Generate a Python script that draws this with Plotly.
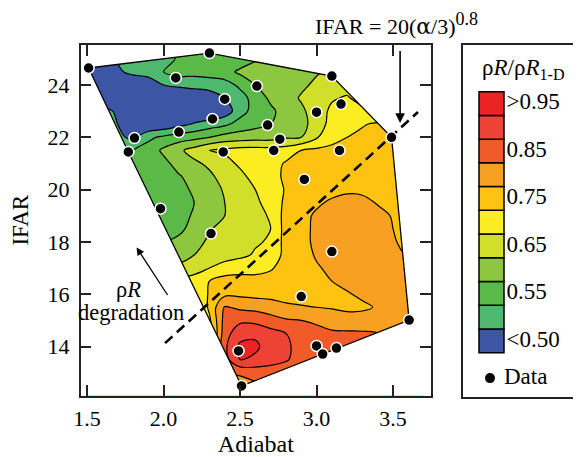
import plotly.graph_objects as go

# ---------------- data ----------------
# field grid of rhoR / rhoR_1-D (x100)
adiabat_grid = [1.5, 1.6, 1.7, 1.8, 1.9, 2.0, 2.1, 2.2, 2.3, 2.4, 2.5, 2.6,
                2.7, 2.8, 2.9, 3.0, 3.1, 3.2, 3.3, 3.4, 3.5, 3.6, 3.7]
ifar_grid = [25.5, 25.0, 24.5, 24.0, 23.5, 23.0, 22.5, 22.0, 21.5, 21.0, 20.5, 20.0,
             19.5, 19.0, 18.5, 18.0, 17.5, 17.0, 16.5, 16.0, 15.5, 15.0, 14.5, 14.0,
             13.5, 13.0, 12.5, 12.0]
rho_r_pct = [
    [45, 45, 50.5, 52, 52, 52, 56, 57, 57, 57, 57, 59.5, 61, 62, 62, 63, 64, 66, 67, 67, 67, 67, 67],
    [45, 45, 50.5, 52, 52, 52, 56, 57, 57, 57, 57, 59.5, 61, 62, 62, 63, 64, 66, 67, 67, 67, 67, 67],
    [45, 45, 49, 51.5, 52, 55, 57, 56.5, 56.5, 58, 61, 62, 62, 62, 62, 64.5, 66, 67, 68, 68, 68, 68, 68],
    [45, 45, 45, 45, 47, 50, 51, 52, 53, 53, 56, 60, 62, 63, 64, 66, 67, 68, 69, 69, 69, 69, 69],
    [45, 45, 45, 45, 45, 45, 45, 45, 46, 50, 53, 57, 61, 63, 65.5, 67, 69.5, 70.5, 68, 67, 67, 67, 67],
    [52, 52, 49, 45, 45, 45, 45, 45, 45, 47, 53, 57, 59, 62, 64, 67.5, 71, 72.5, 71, 68, 68, 68, 68],
    [52, 52, 50, 46, 45, 46, 48.5, 50.5, 52.5, 54, 57, 58.5, 60, 62, 63.5, 67, 72, 73, 74.5, 76, 77, 77, 77],
    [52, 52, 51, 49, 54, 56, 57.5, 58.5, 60, 62, 62.5, 63, 63, 64.5, 65, 69.5, 73, 75, 76.5, 77, 77, 77, 77],
    [53, 53, 53, 55, 57, 61, 64, 67, 70, 71, 72, 72, 72, 72.5, 75, 76, 76.5, 77, 77, 77, 77, 77, 77],
    [55, 55, 55, 56, 57, 58.5, 62, 64, 66, 68, 71, 72, 73, 75.5, 77, 77, 77, 77, 77, 77, 77, 77, 77],
    [56, 56, 56, 56, 57, 57.5, 59.5, 62, 64, 67, 68.5, 72, 73, 76, 77, 77, 77, 77, 77, 77, 77, 77, 77],
    [55, 55, 55, 55, 56, 57, 58, 61, 63, 65.5, 68, 70, 72, 75.5, 77, 77.5, 78, 79, 78.5, 77.5, 77, 77, 77],
    [55, 55, 55, 55, 55, 57, 58.5, 60, 63, 65, 68, 69, 72, 76, 77.5, 79, 81, 82, 82, 79.5, 77.5, 77, 77],
    [56, 56, 56, 56, 56, 57, 58.5, 60.5, 62.5, 65, 67.5, 68.5, 70.5, 77, 78, 81, 82, 82.5, 82.5, 82, 79.5, 77, 77],
    [57, 57, 57, 57, 57, 57, 59, 61.5, 64.5, 67, 68, 69, 70, 77, 78.5, 81, 82.5, 83, 83, 82.5, 80, 78, 78],
    [60, 60, 60, 60, 60, 60, 61, 63, 66, 68, 68.5, 69.5, 70.5, 77, 78.5, 81, 82.5, 83, 83, 82.5, 80.5, 78.5, 78.5],
    [62, 62, 62, 62, 62, 62, 62, 65, 67, 68, 69, 70.5, 72, 76.5, 78, 80.5, 82, 82.5, 82.5, 82.5, 81.5, 79.5, 79.5],
    [68, 68, 68, 68, 68, 68, 67, 69, 70, 72, 73, 73, 74.5, 77, 78, 79.5, 81, 82, 82, 82, 82, 81, 81],
    [71, 71, 71, 71, 71, 71, 71, 71, 75, 77, 77, 77, 77, 77.5, 78, 78.5, 80, 81.5, 82, 82, 82, 82, 82],
    [71, 71, 71, 71, 71, 71, 71, 71, 75.5, 79, 79, 78.5, 78, 78, 77.5, 78, 78.5, 79.5, 81, 81, 82, 82, 82],
    [68, 68, 68, 68, 68, 68, 68, 68, 76, 85.5, 84, 83.5, 83, 81, 80.5, 80, 79.5, 78.5, 79, 80.5, 82, 82, 82],
    [68, 68, 68, 68, 68, 68, 68, 68, 74, 87, 89, 88.5, 86.5, 85.5, 85, 84, 83.5, 83, 82.5, 82, 82, 82, 82],
    [70, 70, 70, 70, 70, 70, 70, 70, 72, 88, 93, 94, 92, 90, 88, 87, 85.5, 85.5, 85.5, 85, 82, 82, 82],
    [72, 72, 72, 72, 72, 72, 72, 72, 76, 89, 96, 96, 92.5, 91, 88, 87, 87, 86.5, 85.5, 84, 83, 83, 83],
    [80, 80, 80, 80, 80, 80, 80, 80, 82, 88, 95, 94, 92, 90.5, 88, 87, 86, 86, 86, 86, 86, 86, 86],
    [82, 82, 82, 82, 82, 82, 82, 82, 83, 85, 86, 87, 87.5, 87, 86, 86, 86, 86, 86, 86, 86, 86, 86],
    [82, 82, 82, 82, 82, 82, 82, 82, 82, 82, 82, 84, 85, 85, 85, 85, 85, 85, 85, 85, 85, 85, 85],
    [82, 82, 82, 82, 82, 82, 82, 82, 82, 82, 82, 84, 85, 85, 85, 85, 85, 85, 85, 85, 85, 85, 85],
]

# simulation data points
data_adiabat = [1.51, 2.30, 2.08, 2.40, 2.61, 3.10, 3.16, 3.00, 2.32, 2.10, 1.81, 1.77,
                2.39, 2.68, 2.76, 2.72, 3.15, 2.92, 1.98, 2.31, 3.10, 2.90, 3.49, 3.605,
                2.49, 3.00, 3.04, 3.13, 2.51]
data_ifar = [24.65, 25.22, 24.27, 23.46, 23.96, 24.34, 23.27, 22.96, 22.70, 22.20, 21.97, 21.44,
             21.44, 22.47, 21.93, 21.50, 21.50, 20.39, 19.27, 18.32, 17.63, 15.91, 22.00, 15.01,
             13.83, 14.02, 13.71, 13.94, 12.49]

# IFAR = 20(alpha/3)^0.8 threshold line (as drawn)
threshold_adiabat = [2.01, 3.663]
threshold_ifar = [14.13, 22.97]

# legend levels (bottom to top)
level_colors = ['#3C55A5', '#4FB86F', '#5AB947', '#8DC63F', '#D1DE2A', '#FCEC22',
                '#FEC210', '#F7A021', '#F15B29', '#EF4237', '#ED2225']
level_labels = ['<0.50', '0.55', '0.65', '0.75', '0.85', '>0.95']
level_label_index = [0, 2, 4, 6, 8, 10]

x_tick_vals = [1.5, 2.0, 2.5, 3.0, 3.5]
x_tick_text = ['1.5', '2.0', '2.5', '3.0', '3.5']
y_tick_vals = [14, 16, 18, 20, 22, 24]
y_tick_text = ['14', '16', '18', '20', '22', '24']

# ---------------- helpers ----------------
OFF = 8                       # page body margin of the browser
W, H = 581 - OFF, 457 - OFF
FONT = 'Liberation Serif, Times New Roman, serif'
AX = '#222222'


def fx(px):
    return (px - OFF) / W


def fy(py):
    return 1 - (py - OFF) / H


def convex_hull(xs, ys):
    pts = sorted(set(zip(xs, ys)))

    def cross(o, a, b):
        return (a[0] - o[0]) * (b[1] - o[1]) - (a[1] - o[1]) * (b[0] - o[0])

    lower, upper = [], []
    for p in pts:
        while len(lower) >= 2 and cross(lower[-2], lower[-1], p) <= 0:
            lower.pop()
        lower.append(p)
    for p in reversed(pts):
        while len(upper) >= 2 and cross(upper[-2], upper[-1], p) <= 0:
            upper.pop()
        upper.append(p)
    return lower[:-1] + upper[:-1]  # counter-clockwise


hull = convex_hull(data_adiabat, data_ifar)
hx = [p[0] for p in hull]
hy = [p[1] for p in hull]

x_range = [1.4585, 3.748]
y_range = [12.126, 25.53]
X0, X1, Y0, Y1 = 1.3, 3.9, 11.5, 26.0
mask_x = [X0, X1, X1, X0, X0] + hx + [hx[0], X0]
mask_y = [Y1, Y1, Y0, Y0, Y1] + hy + [hy[0], Y1]

colorscale = [[k / 10, c] for k, c in enumerate(level_colors)]

fig = go.Figure()

fig.add_trace(go.Contour(
    x=adiabat_grid, y=ifar_grid, z=rho_r_pct,
    autocontour=False,
    contours=dict(start=50, end=95, size=5, coloring='fill', showlines=True),
    colorscale=colorscale, showscale=False,
    line=dict(color='black', width=1.2, smoothing=1.0),
    hoverinfo='skip',
))

# white mask outside the convex hull of the data
fig.add_trace(go.Scatter(x=mask_x, y=mask_y, mode='lines', fill='toself',
                         fillcolor='white', line=dict(width=0, color='white'),
                         hoverinfo='skip', showlegend=False))

# hull outline
fig.add_trace(go.Scatter(x=hx + [hx[0]], y=hy + [hy[0]], mode='lines',
                         line=dict(color='black', width=1.3),
                         hoverinfo='skip', showlegend=False))

# threshold dashed line
fig.add_trace(go.Scatter(x=threshold_adiabat, y=threshold_ifar, mode='lines',
                         line=dict(color='black', width=2.6, dash='10px,6px'),
                         hoverinfo='skip', showlegend=False))

# data points
fig.add_trace(go.Scatter(x=data_adiabat, y=data_ifar, mode='markers',
                         marker=dict(size=11, color='black',
                                     line=dict(color='white', width=1.5)),
                         showlegend=False))

# ---------------- custom legend panel ----------------
fig.add_trace(go.Bar(x=[0] * len(level_colors), y=[1] * len(level_colors),
                     base=list(range(len(level_colors))), width=1,
                     marker=dict(color=level_colors, line=dict(color='black', width=1.5)),
                     xaxis='x2', yaxis='y2', hoverinfo='skip', showlegend=False))
fig.add_trace(go.Scatter(x=[0.6] * len(level_labels), y=[i + 0.5 for i in level_label_index],
                         text=level_labels, mode='text', textposition='middle right',
                         textfont=dict(family=FONT, size=23, color='black'),
                         xaxis='x2', yaxis='y2', hoverinfo='skip', showlegend=False))
fig.add_trace(go.Scatter(x=[-0.06], y=[-1.07], mode='markers',
                         marker=dict(size=10, color='black'),
                         xaxis='x2', yaxis='y2', hoverinfo='skip', showlegend=False))
fig.add_trace(go.Scatter(x=[0.5], y=[-1.07], mode='text', text=['Data'],
                         textposition='middle right',
                         textfont=dict(family=FONT, size=23, color='black'),
                         xaxis='x2', yaxis='y2', hoverinfo='skip', showlegend=False))

axis_common = dict(showgrid=False, zeroline=False, showline=True, linecolor=AX,
                   linewidth=1.5, mirror='ticks', ticks='inside', ticklen=11,
                   tickwidth=1.5, tickcolor=AX,
                   tickfont=dict(family=FONT, size=22, color='black'))

fig.update_layout(
    width=W, height=H,
    margin=dict(l=0, r=0, t=0, b=0),
    paper_bgcolor='white', plot_bgcolor='white',
    showlegend=False,
    font=dict(family=FONT, size=22, color='black'),
    xaxis=dict(domain=[fx(80.7), fx(431)], range=x_range, anchor='y',
               tickvals=x_tick_vals, ticktext=x_tick_text, ticklabelstandoff=2,
               title=dict(text='Adiabat', font=dict(family=FONT, size=24), standoff=15),
               automargin=False, **axis_common),
    yaxis=dict(domain=[fy(395.5), fy(45)], range=y_range, anchor='x',
               tickvals=y_tick_vals, ticktext=y_tick_text, ticklabelstandoff=5,
               title=dict(text='IFAR', font=dict(family=FONT, size=23), standoff=21),
               automargin=False, **axis_common),
    xaxis2=dict(domain=[fx(463), fx(580)], range=[-1.14, 3.54], anchor='y2',
                showgrid=False, zeroline=False, showticklabels=False, ticks='',
                showline=True, mirror=True, linecolor=AX, linewidth=1.5, fixedrange=True),
    yaxis2=dict(domain=[fy(397), fy(45)], range=[-1.867, 12.967], anchor='x2',
                showgrid=False, zeroline=False, showticklabels=False, ticks='',
                showline=True, mirror=True, linecolor=AX, linewidth=1.5, fixedrange=True),
    annotations=[
        dict(xref='paper', yref='paper', x=fx(313), y=fy(24),
             text=('IFAR = 20(<span style="font-family:DejaVu Serif">α</span>/3)'
                   '<sup><span style="font-size:18px">0.8</span></sup>'),
             showarrow=False, xanchor='left', yanchor='middle',
             font=dict(family=FONT, size=22)),
        dict(xref='x', yref='y', x=3.546, y=22.55, ax=0, ay=-86, text=' ',
             showarrow=True, arrowhead=2, arrowsize=1.2, arrowwidth=1.6,
             arrowcolor='black'),
        dict(xref='x', yref='y', x=1.8235, y=17.79, ax=35.5, ay=54.5, text=' ',
             showarrow=True, arrowhead=2, arrowsize=1.2, arrowwidth=1.3,
             arrowcolor='black'),
        dict(xref='paper', yref='paper', x=fx(128), y=fy(289),
             text='ρ<i>R</i>', showarrow=False, xanchor='center', yanchor='middle',
             font=dict(family=FONT, size=22.5)),
        dict(xref='paper', yref='paper', x=fx(131), y=fy(312),
             text='degradation', showarrow=False, xanchor='center', yanchor='middle',
             font=dict(family=FONT, size=22.5)),
        dict(xref='paper', yref='paper', x=fx(523), y=fy(69),
             text='ρ<i>R</i>/ρ<i>R</i><sub>1-D</sub>', showarrow=False,
             xanchor='center', yanchor='middle', font=dict(family=FONT, size=23)),
    ],
)

fig.write_html('out.html')
